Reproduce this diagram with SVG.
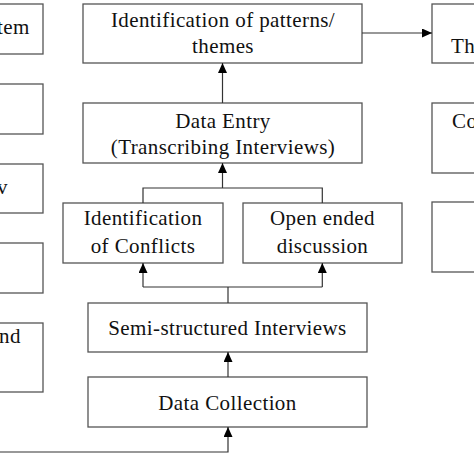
<svg xmlns="http://www.w3.org/2000/svg" width="474" height="474" viewBox="0 0 474 474">
<style>
.box{fill:#fff;stroke:#555;stroke-width:1.3}
.t{font-family:"Liberation Serif","Times New Roman",serif;font-size:21px;letter-spacing:0.4px;fill:#111;text-anchor:middle}
.tl{font-family:"Liberation Serif","Times New Roman",serif;font-size:21px;letter-spacing:0.4px;fill:#111}
.c{fill:none;stroke:#333;stroke-width:1.2}
</style>
<defs>
<marker id="ah" markerUnits="userSpaceOnUse" markerWidth="10" markerHeight="9" refX="10" refY="4.5" orient="auto">
<path d="M0,0 L10,4.5 L0,9 z" fill="#000"/>
</marker>
</defs>
<rect width="474" height="474" fill="#fff"/>
<g id="left1"><rect class="box" x="-10" y="4" width="53" height="50"/><text class="tl" x="-3" y="34">tem</text></g>
<g id="left2"><rect class="box" x="-10" y="84" width="53" height="50"/></g>
<g id="left3"><rect class="box" x="-10" y="164" width="53" height="49"/><text class="tl" x="-3" y="194">v</text></g>
<g id="left4"><rect class="box" x="-10" y="243" width="53" height="50"/></g>
<g id="left5"><rect class="box" x="-10" y="323" width="53" height="69"/><text class="tl" x="-1" y="343">nd</text></g>
<g id="patterns"><rect class="box" x="83" y="4" width="279" height="59"/><text class="t" x="223" y="27">Identification of patterns/</text><text class="t" x="223" y="53">themes</text></g>
<g id="dataentry"><rect class="box" x="83" y="103" width="279" height="60"/><text class="t" x="223" y="128">Data Entry</text><text class="t" x="223" y="154">(Transcribing Interviews)</text></g>
<g id="conflicts"><rect class="box" x="63" y="203" width="160" height="60"/><text class="t" x="143" y="225">Identification</text><text class="t" x="143" y="253">of Conflicts</text></g>
<g id="openended"><rect class="box" x="243" y="203" width="159" height="60"/><text class="t" x="322.5" y="225">Open ended</text><text class="t" x="322.5" y="253">discussion</text></g>
<g id="semi"><rect class="box" x="88" y="303" width="279" height="49"/><text class="t" x="227.5" y="335">Semi-structured Interviews</text></g>
<g id="datacollection"><rect class="box" x="88" y="377" width="279" height="50"/><text class="t" x="227.5" y="410">Data Collection</text></g>
<g id="right1"><rect class="box" x="432" y="4" width="60" height="59"/><text class="tl" x="451" y="53">Th</text></g>
<g id="right2"><rect class="box" x="432" y="103" width="60" height="70"/><text class="tl" x="452" y="128">Co</text></g>
<g id="right3"><rect class="box" x="432" y="202" width="60" height="70"/></g>
<g id="connectors">
<path class="c" d="M362,33 H432" marker-end="url(#ah)"/>
<path class="c" d="M222.5,103 V63" marker-end="url(#ah)"/>
<path class="c" d="M143,203 V188 H322.3 V203"/>
<path class="c" d="M222.5,188 V163" marker-end="url(#ah)"/>
<path class="c" d="M143,287 H322.3"/>
<path class="c" d="M143,287 V263" marker-end="url(#ah)"/>
<path class="c" d="M322.3,287 V263" marker-end="url(#ah)"/>
<path class="c" d="M228,303 V287"/>
<path class="c" d="M228,377 V352" marker-end="url(#ah)"/>
<path class="c" d="M0,452 H228 V427" marker-end="url(#ah)"/>
</g>
</svg>
